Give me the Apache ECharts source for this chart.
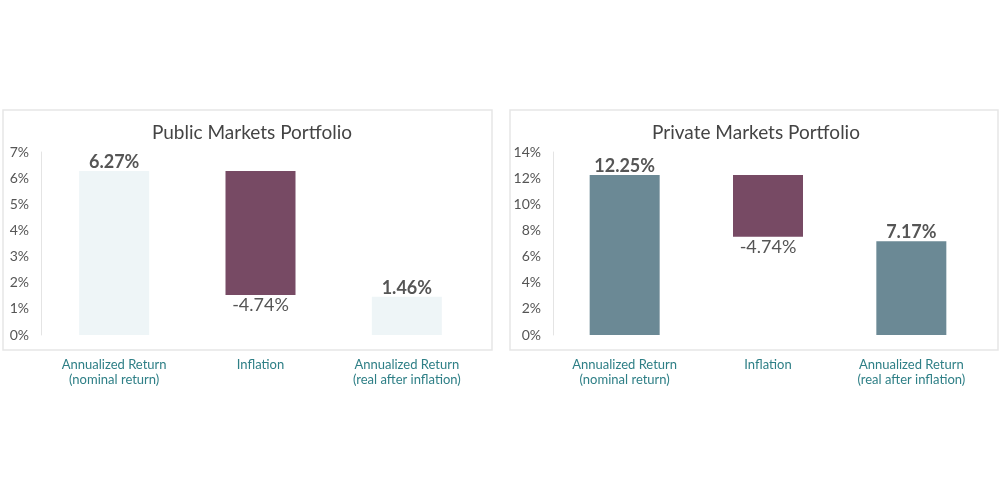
<!DOCTYPE html>
<html>
<head>
<meta charset="UTF-8">
<script src="https://cdn.jsdelivr.net/npm/echarts@6/dist/echarts.min.js"></script>
<style>html,body,#c{width:100%;height:100%;margin:0;background:#fff}</style>
</head>
<body>
<div id="c"></div>
<script>
var categories = ['Annualized Return\n(nominal return)', 'Inflation', 'Annualized Return\n(real after inflation)'];
var publicValues = [6.27, -4.74, 1.46];
var privateValues = [12.25, -4.74, 7.17];
var publicTicks = {min: 0, max: 7, interval: 1};
var privateTicks = {min: 0, max: 14, interval: 2};

var chart = echarts.init(document.getElementById('c'));
var font = 'Lato, "Open Sans", sans-serif';

function waterfall(vals) {
  var start = vals[0], end = start + vals[1];
  return {
    base: ['-', end, '-'],
    bars: [vals[0], -vals[1], vals[2]]
  };
}
function panel(idx, vals, colors) {
  var w = waterfall(vals);
  return [{
    type: 'bar', xAxisIndex: idx, yAxisIndex: idx, stack: 's' + idx, barWidth: 70,
    itemStyle: {color: 'transparent'}, data: w.base, silent: true
  }, {
    type: 'bar', xAxisIndex: idx, yAxisIndex: idx, stack: 's' + idx, barWidth: 70,
    data: w.bars.map(function (v, i) {
      var neg = vals[i] < 0;
      return {
        value: v,
        itemStyle: {color: colors[i]},
        label: {
          show: true, position: neg ? 'bottom' : 'top', distance: neg ? 1 : 0,
          formatter: vals[i].toFixed(2) + '%',
          fontSize: neg ? 18 : 18, fontWeight: neg ? 'normal' : 'bold',
          color: '#555', fontFamily: font
        }
      };
    })
  }];
}
function yAxis(idx, t) {
  return {
    gridIndex: idx, min: t.min, max: t.max, interval: t.interval,
    axisLine: {show: true, lineStyle: {color: '#e4e4e4'}}, axisTick: {show: false},
    splitLine: {show: false},
    axisLabel: {formatter: '{value}%', color: '#555', fontSize: 14, fontFamily: font, margin: 12}
  };
}
function xAxis(idx) {
  return {
    type: 'category', gridIndex: idx, data: categories,
    axisLine: {show: false}, axisTick: {show: false},
    axisLabel: {color: '#2e7f86', fontSize: 13, fontFamily: font, margin: 22, lineHeight: 15, interval: 0}
  };
}
var light = '#eef5f7', purple = '#774a64', slate = '#6b8995';
chart.setOption({
  animation: false,
  title: [
    {text: 'Public Markets Portfolio', left: 247, top: 118, textAlign: 'center',
     textStyle: {fontSize: 19, fontWeight: 'normal', color: '#444', fontFamily: font}},
    {text: 'Private Markets Portfolio', left: 751, top: 118, textAlign: 'center',
     textStyle: {fontSize: 19, fontWeight: 'normal', color: '#444', fontFamily: font}}
  ],
  graphic: [
    {type: 'rect', shape: {x: 3, y: 110, width: 489, height: 240}, style: {fill: 'none', stroke: '#e6e6e6', lineWidth: 1.5}, z: -1},
    {type: 'rect', shape: {x: 510, y: 110, width: 488, height: 240}, style: {fill: 'none', stroke: '#e6e6e6', lineWidth: 1.5}, z: -1}
  ],
  grid: [
    {left: 41, right: 520, top: 152, bottom: 165},
    {left: 553, right: 17, top: 152, bottom: 165}
  ],
  xAxis: [xAxis(0), xAxis(1)],
  yAxis: [yAxis(0, publicTicks), yAxis(1, privateTicks)],
  series: panel(0, publicValues, [light, purple, light]).concat(panel(1, privateValues, [slate, purple, slate]))
});
window.onresize = chart.resize;
</script>
</body>
</html>
